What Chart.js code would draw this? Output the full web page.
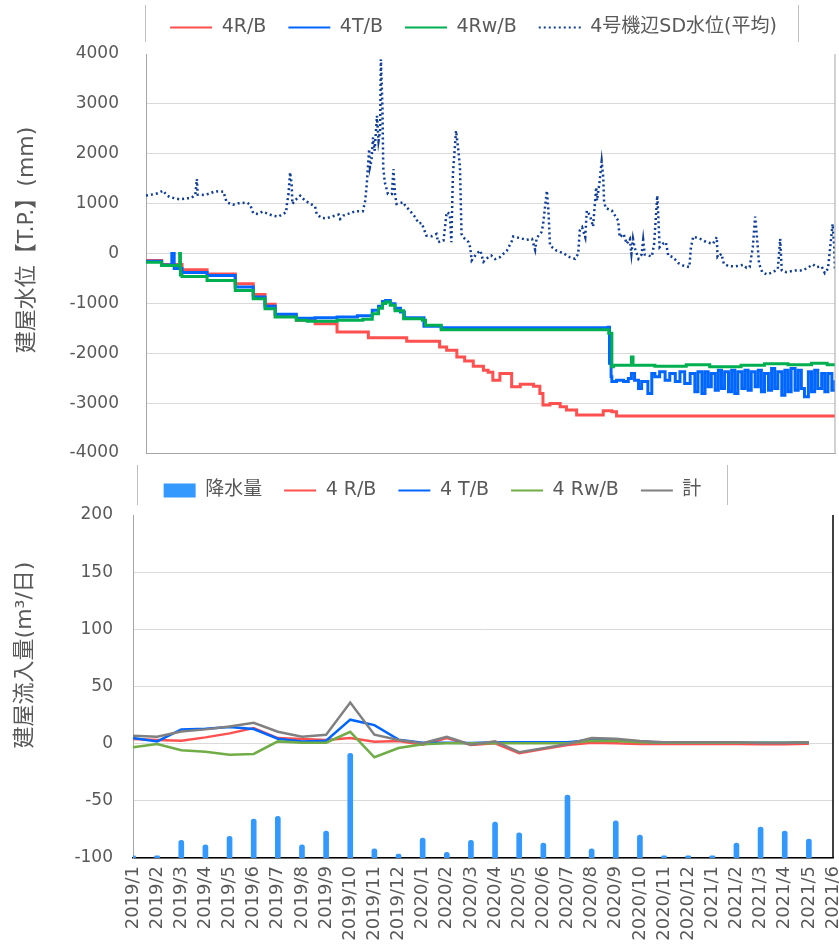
<!DOCTYPE html>
<html>
<head>
<meta charset="utf-8">
<script src="https://cdn.jsdelivr.net/npm/chart.js@4.4.1/dist/chart.umd.min.js"></script>
<style>
  html, body { margin: 0; padding: 0; background: #fff; }
  #wrap { position: relative; width: 839px; height: 949px; overflow: hidden; }
  #top { position: absolute; left: 0; top: 0; }
  #bottom { position: absolute; left: 0; top: 460px; }
</style>
</head>
<body>
<div id="wrap">
  <canvas id="top" width="839" height="470"></canvas>
  <canvas id="bottom" width="839" height="489"></canvas>
</div>
<script>
// --- 上段: 建屋水位 (x = 2019/1/1 からの日数) ---
const rbDay = [0, 20, 46, 78, 114, 137, 152, 165, 192, 216, 244, 284, 333, 375, 384, 397, 407, 418, 431, 437, 443, 452, 467, 478, 495, 503, 507, 516, 529, 537, 550, 584, 595, 601, 880];
const rbLevel = [-140, -220, -327, -410, -607, -820, -1020, -1260, -1340, -1407, -1573, -1687, -1760, -1873, -1940, -2073, -2153, -2260, -2340, -2380, -2540, -2407, -2673, -2620, -2660, -2807, -3040, -3007, -3073, -3140, -3240, -3153, -3173, -3260, -3260];

const tbDay = [0, 20, 33, 36, 46, 78, 114, 137, 152, 165, 192, 216, 244, 270, 289, 297, 302, 306, 312, 318, 325, 330, 355, 377, 590, 592, 594, 595, 601, 610, 616, 620, 624, 629, 633, 641, 646, 650, 656, 663, 669, 676, 682, 688, 695, 701, 705, 710, 714, 718, 722, 727, 731, 735, 739, 744, 748, 752, 756, 761, 765, 769, 773, 778, 782, 786, 790, 795, 799, 803, 807, 812, 816, 820, 824, 829, 833, 837, 841, 846, 850, 854, 858, 863, 867, 871, 876, 880];
const tbLevel = [-153, -230, 0, -300, -380, -440, -673, -873, -1060, -1220, -1300, -1290, -1273, -1250, -1140, -1060, -960, -940, -1010, -1100, -1173, -1287, -1460, -1487, -1480, -2200, -2470, -2567, -2540, -2567, -2507, -2407, -2540, -2707, -2567, -2807, -2407, -2473, -2373, -2540, -2407, -2567, -2373, -2607, -2407, -2773, -2373, -2807, -2373, -2673, -2407, -2740, -2340, -2707, -2373, -2773, -2340, -2807, -2373, -2707, -2340, -2740, -2373, -2673, -2340, -2773, -2407, -2740, -2307, -2707, -2373, -2840, -2340, -2773, -2307, -2740, -2340, -2707, -2873, -2373, -2773, -2340, -2707, -2407, -2773, -2407, -2740, -2540];

const rwDay = [0, 20, 43, 44, 46, 78, 114, 137, 152, 165, 192, 206, 244, 277, 289, 297, 302, 306, 312, 318, 329, 353, 357, 377, 590, 591, 595, 597, 620, 622, 650, 690, 720, 760, 790, 820, 850, 870, 880];
const rwLevel = [-173, -240, 0, -430, -460, -540, -740, -907, -1107, -1273, -1340, -1360, -1340, -1320, -1207, -1100, -1000, -973, -1040, -1150, -1307, -1340, -1440, -1527, -1527, -1600, -2273, -2240, -2073, -2240, -2260, -2230, -2270, -2240, -2210, -2230, -2200, -2230, -2227];

const sdDay = [0, 7, 15, 22, 26, 31, 37, 43, 52, 58, 63, 65, 66, 75, 82, 88, 99, 101, 103, 111, 118, 129, 133, 137, 143, 149, 156, 163, 169, 175, 179, 180, 182, 184, 186, 187, 190, 197, 203, 209, 216, 218, 224, 231, 239, 246, 248, 252, 258, 267, 277, 280, 282, 285, 286, 288, 290, 292, 295, 297, 299, 300, 302, 303, 305, 309, 314, 316, 318, 320, 329, 331, 337, 344, 348, 352, 358, 365, 371, 373, 380, 384, 388, 390, 392, 396, 399, 401, 403, 405, 412, 414, 416, 422, 427, 431, 437, 441, 446, 452, 461, 467, 469, 478, 486, 493, 497, 499, 505, 507, 512, 514, 516, 524, 533, 541, 548, 552, 554, 557, 561, 563, 567, 571, 575, 576, 579, 582, 584, 585, 587, 595, 599, 603, 605, 610, 614, 618, 620, 622, 624, 629, 633, 635, 637, 646, 649, 653, 654, 656, 660, 664, 667, 673, 680, 686, 694, 696, 699, 708, 716, 724, 729, 730, 735, 738, 744, 752, 763, 767, 771, 773, 775, 778, 780, 783, 787, 793, 801, 807, 810, 812, 818, 829, 839, 852, 856, 863, 867, 871, 873, 877, 879, 880];
const sdLevel = [1160, 1180, 1207, 1260, 1173, 1127, 1107, 1087, 1107, 1113, 1180, 1493, 1180, 1173, 1207, 1247, 1240, 1127, 1027, 980, 1007, 1020, 980, 807, 793, 840, 793, 753, 740, 793, 827, 993, 1193, 1627, 1393, 993, 1060, 1160, 1060, 1007, 940, 793, 713, 707, 747, 780, 693, 760, 793, 847, 847, 1060, 1393, 2093, 1727, 1860, 2327, 2060, 2760, 2260, 2460, 3893, 2927, 1727, 1427, 1193, 1193, 1693, 1193, 993, 1027, 960, 860, 727, 607, 613, 360, 347, 393, 227, 260, 827, 793, 227, 1593, 2460, 2060, 1727, 393, 327, 227, 127, -140, -7, 60, -167, -73, -40, -113, -73, 60, 240, 340, 307, 273, 293, 73, 313, 427, 560, 1260, 860, 160, 60, 7, -73, -107, -7, 460, 527, 327, 860, 760, 540, 1327, 1060, 1393, 1847, 1527, 1060, 913, 860, 760, 660, 327, 393, 193, 293, -7, 293, 127, -107, -20, 273, -20, -60, 193, 1160, 860, 127, 193, 227, -40, -73, -193, -240, -273, 127, 340, 293, 227, 193, 327, -73, -7, -207, -253, -260, -227, -287, -273, -73, 127, 740, 393, -207, -373, -420, -373, -307, 293, -340, -373, -340, -340, -220, -273, -260, -393, -307, -7, 593, 127, -340];

// --- 下段: 建屋流入量 (月別) ---
const monthLabels = ['2019/1', '2019/2', '2019/3', '2019/4', '2019/5', '2019/6', '2019/7', '2019/8', '2019/9', '2019/10', '2019/11', '2019/12',
  '2020/1', '2020/2', '2020/3', '2020/4', '2020/5', '2020/6', '2020/7', '2020/8', '2020/9', '2020/10', '2020/11', '2020/12',
  '2021/1', '2021/2', '2021/3', '2021/4', '2021/5', '2021/6'];
const rainfall = [4, 4, 31, 23, 38, 68, 73, 23, 47, 183, 16, 7, 35, 10, 31, 63, 44, 26, 110, 16, 65, 40, 4, 4, 4, 26, 54, 47, 33, null];
const inflowRB = [4, 3.2, 2.6, 5.5, 9, 13.6, 4.9, 4, 3.2, 4.9, 1.7, 2.3, -0.9, 5, -1.2, 0.3, -8.4, -4.6, -1.2, 0.9, 0.3, -0.3, -0.3, -0.3, -0.3, -0.3, -0.6, -0.6, 0, null];
const inflowTB = [4.9, 2, 12.5, 13, 14.5, 12.8, 4.3, 2, 2.6, 21, 16.2, 3.5, 0.9, 0.9, 0.6, 1.2, 1.2, 1.2, 1.2, 3.2, 3.2, 2, 0.9, 0.9, 0.9, 0.9, 0.9, 0.9, 1.2, null];
const inflowRwB = [-3.2, -0.3, -5.8, -7, -9.6, -9, 2, 0.9, 0.9, 10.4, -11.9, -3.8, -0.6, 0.3, 0.3, 0.6, 0.3, 0.3, 0.3, 2.6, 2.3, 1.2, 0.9, 0.9, 0.9, 0.9, 0.9, 0.9, 1.2, null];
const inflowTotal = [7, 6.1, 10.7, 12.5, 15, 18.3, 10.4, 6.1, 7.8, 36, 7.8, 3.2, 0.3, 6.1, -0.9, 2, -7.5, -4, -0.3, 5, 4.3, 2.3, 1.2, 1.2, 1.2, 1.2, 0.6, 0.6, 1.2, null];

Chart.defaults.font.family = "'DejaVu Sans', 'Noto Sans CJK JP', sans-serif";
Chart.defaults.color = '#595959';
Chart.defaults.animation = false;

const toXY = (xs, ys) => xs.map((x, i) => ({ x: x, y: ys[i] }));

// 凡例の位置合わせ、凡例の枠線、プロット右端の線、縦軸タイトル
const framePlugin = {
  id: 'frame',
  afterLayout(chart, args, o) {
    const lg = chart.legend;
    lg.left += o.legendDx; lg.right += o.legendDx;
    lg.top += o.legendDy; lg.bottom += o.legendDy;
  },
  afterDraw(chart, args, o) {
    const { ctx, chartArea } = chart;
    ctx.save();
    ctx.strokeStyle = '#BFBFBF';
    ctx.lineWidth = 1;
    o.boxLines.forEach(x => {
      ctx.beginPath();
      ctx.moveTo(x + 0.5, o.boxTop);
      ctx.lineTo(x + 0.5, o.boxBottom);
      ctx.stroke();
    });
    ctx.strokeStyle = o.edgeColor;
    ctx.lineWidth = o.edgeWidth;
    ctx.beginPath();
    ctx.moveTo(chartArea.right, chartArea.top);
    ctx.lineTo(chartArea.right, chartArea.bottom);
    ctx.stroke();
    ctx.translate(o.titleX, o.titleY);
    ctx.rotate(-Math.PI / 2);
    ctx.font = "22px 'DejaVu Sans', 'Noto Sans CJK JP', sans-serif";
    ctx.fillStyle = '#595959';
    ctx.textAlign = 'center';
    ctx.textBaseline = 'middle';
    ctx.fillText(o.title, 0, 0);
    ctx.restore();
  }
};

// pointStyle 使用時は破線が凡例に渡らないので補う
const legendLabels = chart => Chart.defaults.plugins.legend.labels.generateLabels(chart).map(item => {
  const ds = chart.data.datasets[item.datasetIndex];
  item.lineDash = ds.borderDash || [];
  if (ds.type !== 'bar') item.lineWidth = 2;
  return item;
});

const gridColor = top => c => (c.tick.value === top ? 'rgba(0,0,0,0)' : '#D9D9D9');

const levelLine = (label, xs, ys, color, order, extra) => Object.assign({
  label: label,
  data: toXY(xs, ys),
  borderColor: color,
  backgroundColor: color,
  borderWidth: 3,
  pointRadius: 0,
  pointStyle: 'line',
  order: order
}, extra);

new Chart(document.getElementById('top'), {
  type: 'line',
  data: {
    datasets: [
      levelLine('4R/B', rbDay, rbLevel, '#FF5050', 0, { stepped: true }),
      levelLine('4T/B', tbDay, tbLevel, '#0066FF', -1, { stepped: true }),
      levelLine('4Rw/B', rwDay, rwLevel, '#00B050', -2, { stepped: true }),
      levelLine('4号機辺SD水位(平均)', sdDay, sdLevel, '#0D3C99', -3, { borderDash: [2, 3], borderWidth: 2.5 })
    ]
  },
  options: {
    responsive: false,
    devicePixelRatio: 1,
    layout: { padding: { top: 3, right: 4, bottom: 17, left: 0 } },
    plugins: {
      legend: {
        reverse: true,
        labels: {
          usePointStyle: true, pointStyleWidth: 42, boxHeight: 14, padding: 22,
          font: { size: 19 }, color: '#595959', generateLabels: legendLabels
        }
      },
      tooltip: { enabled: false },
      frame: {
        legendDx: 56, legendDy: -7, boxLines: [145, 798], boxTop: 5, boxBottom: 42,
        edgeColor: '#A6A6A6', edgeWidth: 1,
        title: '建屋水位【T.P.】(mm)', titleX: 27, titleY: 240
      }
    },
    scales: {
      x: {
        type: 'linear', min: 0, max: 880,
        ticks: { display: false },
        grid: { display: false, drawTicks: false },
        border: { color: '#A6A6A6' },
        afterFit: s => { s.height = 0; }
      },
      y: {
        min: -4000, max: 4000,
        ticks: { stepSize: 1000, padding: 27, font: { size: 17 }, color: '#595959', callback: v => String(v) },
        grid: { drawTicks: false, color: gridColor(4000) },
        border: { color: '#A6A6A6' },
        afterFit: s => { s.width = 146; s.paddingTop = 0; s.paddingBottom = 0; }
      }
    }
  },
  plugins: [framePlugin]
});

const inflowLine = (label, data, color, order) => ({
  type: 'line',
  label: label,
  data: data,
  borderColor: color,
  backgroundColor: color,
  borderWidth: 2.5,
  pointRadius: 0,
  pointStyle: 'line',
  order: order
});

new Chart(document.getElementById('bottom'), {
  type: 'line',
  data: {
    labels: monthLabels,
    datasets: [
      {
        type: 'bar', label: '降水量', data: rainfall, yAxisID: 'y2',
        backgroundColor: '#3399FF', borderWidth: 0, barThickness: 5,
        borderRadius: { topLeft: 2.5, topRight: 2.5 }, pointStyle: 'rect', order: 0
      },
      inflowLine('4 R/B', inflowRB, '#FF5050', -1),
      inflowLine('4 T/B', inflowTB, '#0066FF', -2),
      inflowLine('4 Rw/B', inflowRwB, '#70AD47', -3),
      inflowLine('計', inflowTotal, '#808080', -4)
    ]
  },
  options: {
    responsive: false,
    devicePixelRatio: 1,
    layout: { padding: { top: 4, right: 6, bottom: 0, left: 0 } },
    plugins: {
      legend: {
        reverse: true,
        labels: {
          usePointStyle: true, pointStyleWidth: 32, boxHeight: 14, padding: 22,
          font: { size: 19 }, color: '#595959', generateLabels: legendLabels
        }
      },
      tooltip: { enabled: false },
      frame: {
        legendDx: 16, legendDy: -5, boxLines: [137, 727], boxTop: 5, boxBottom: 45,
        edgeColor: '#000000', edgeWidth: 1.5,
        title: '建屋流入量(m³/日)', titleX: 25, titleY: 195
      }
    },
    scales: {
      x: {
        offset: false,
        grid: { display: false, drawTicks: false },
        border: { color: '#000000', width: 1.5 },
        ticks: { autoSkip: false, maxRotation: 90, minRotation: 90, padding: 8, font: { size: 18 }, color: '#595959' },
        afterFit: s => { s.height = 91; s.paddingLeft = 0; s.paddingRight = 0; }
      },
      y: {
        min: -100, max: 200,
        ticks: { stepSize: 50, padding: 20, font: { size: 17 }, color: '#595959' },
        grid: { drawTicks: false, color: gridColor(200) },
        border: { color: '#A6A6A6' },
        afterFit: s => { s.width = 133; }
      },
      y2: { display: false, min: 0, max: 600 }
    }
  },
  plugins: [framePlugin]
});
</script>
</body>
</html>
